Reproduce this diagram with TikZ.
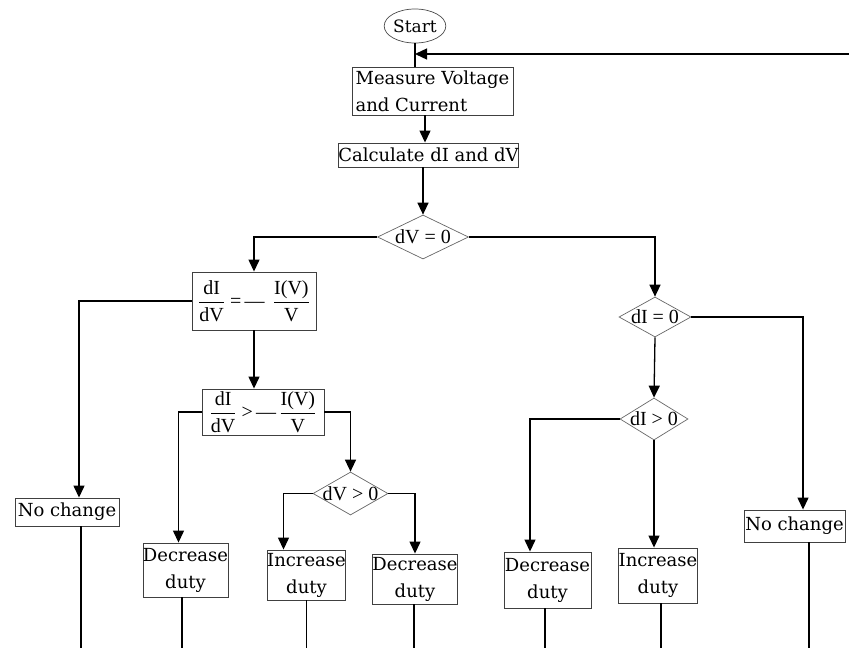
\documentclass[tikz,border=0pt]{standalone}
\usepackage{fix-cm}
\usepackage{amsmath}
\usepackage{fontspec}
\setmainfont{DejaVu Serif}
\newfontfamily\tnr{Liberation Serif}
\usetikzlibrary{shapes.geometric,arrows.meta}
\tikzset{
  box/.style={draw=black!75, line width=0.9pt, rectangle, inner sep=0pt, align=center, font=\fontsize{18}{27}\selectfont},
  fbox/.style={box, font=\tnr\fontsize{20}{24}\selectfont},
  dia/.style={draw=black!60, line width=0.7pt, diamond, inner sep=0pt},
  dtext/.style={font=\tnr\fontsize{20}{24}\selectfont},
  conn/.style={line width=1.3pt, black},
  arr/.style={conn, -{Triangle[length=12pt,width=11pt]}},
}
\newcommand{\myfrac}[2]{\dfrac{\text{#1}}{\text{#2}}}
\begin{document}
\begin{tikzpicture}[x=1pt,y=-1pt]
\useasboundingbox (0,0) rectangle (849,648);
\coordinate (bot) at (0,648);
% nodes
\node[draw=black!70, line width=0.7pt, ellipse, minimum width=54, minimum height=34, inner sep=0pt, font=\fontsize{17}{22}\selectfont] (start) at (415,26) {Start};
\node[box, minimum width=161, minimum height=48, align=left] (measure) at (432.5,91) {Measure Voltage\\and Current};
\node[box, minimum width=179, minimum height=24] (calc) at (428.5,155) {Calculate dI and dV};
\node[dia, minimum width=91, minimum height=44] (d0) at (423,237) {};
\node[dtext] (t0) at (d0) {dV = 0};
\node[fbox, minimum width=124, minimum height=58] (box1) at (254,301) {$\myfrac{dI}{dV}\text{ =\,—\, }\myfrac{I(V)}{V}$};
\node[fbox, minimum width=122, minimum height=46] (box2) at (263,412) {$\myfrac{dI}{dV}\text{ >\,—\,}\myfrac{I(V)}{V}$};
\node[dia, minimum width=75, minimum height=43] (d3) at (350.5,493.5) {};
\node[dtext] (t3) at (d3) {dV > 0};
\node[box, minimum width=104, minimum height=28] (nc1) at (67,512) {No change};
\node[box, minimum width=83, minimum height=54] (dec1) at (185.5,570) {Decrease\\duty};
\node[box, minimum width=75, minimum height=50] (inc1) at (306.5,575) {Increase\\duty};
\node[box, minimum width=80, minimum height=50] (dec2) at (415,579) {Decrease\\duty};
\node[dia, minimum width=72, minimum height=40] (d1) at (655,317) {};
\node[dtext] (t1) at (d1) {dI = 0};
\node[dia, minimum width=68, minimum height=42] (d2) at (654,419) {};
\node[dtext] (t2) at (d2) {dI > 0};
\node[box, minimum width=87, minimum height=56] (dec3) at (547.5,580) {Decrease\\duty};
\node[box, minimum width=76, minimum height=55] (inc2) at (658,575.5) {Increase\\duty};
\node[box, minimum width=101, minimum height=32] (nc2) at (794.5,526) {No change};
% connectors
\draw[conn] (start.south) -- (start.south |- measure.north);
\coordinate (fbstart) at (849,54);
\coordinate (fbend) at (415,54);
\draw[arr] (fbstart) -- (fbend);
\draw[arr] ([xshift=-7.5]measure.south) -- ([xshift=-7.5]measure.south |- calc.north);
\draw[arr] ([xshift=-5.5]calc.south) -- (d0.north);
\draw[arr] (d0.west) -| (box1.north);
\draw[arr] (d0.east) -| (d1.north);
\draw[arr] (box1.west) -| ([xshift=12]nc1.north);
\draw[arr] (box1.south) -- (box1.south |- box2.north);
\draw[arr] (box2.west) -| ([xshift=-7]dec1.north);
\draw[arr] (box2.east) -| (d3.north);
\draw[arr] (d3.west) -| ([xshift=-23]inc1.north);
\draw[arr] (d3.east) -| (dec2.north);
\draw[arr] (d1.east) -| ([xshift=8.5]nc2.north);
\draw[arr] (d1.south) -- (d2.north);
\draw[arr] (d2.west) -| ([xshift=-17.5]dec3.north);
\draw[arr] (d2.south) -- (d2.south |- inc2.north);
% bottom lines
\draw[conn] ([xshift=14]nc1.south) -- ([xshift=14]nc1.south |- bot);
\draw[conn] ([xshift=-3.5]dec1.south) -- ([xshift=-3.5]dec1.south |- bot);
\draw[conn] (inc1.south) -- (inc1.south |- bot);
\draw[conn] ([xshift=-1]dec2.south) -- ([xshift=-1]dec2.south |- bot);
\draw[conn] ([xshift=-2.5]dec3.south) -- ([xshift=-2.5]dec3.south |- bot);
\draw[conn] ([xshift=3]inc2.south) -- ([xshift=3]inc2.south |- bot);
\draw[conn] ([xshift=14.5]nc2.south) -- ([xshift=14.5]nc2.south |- bot);
\end{tikzpicture}
\end{document}
